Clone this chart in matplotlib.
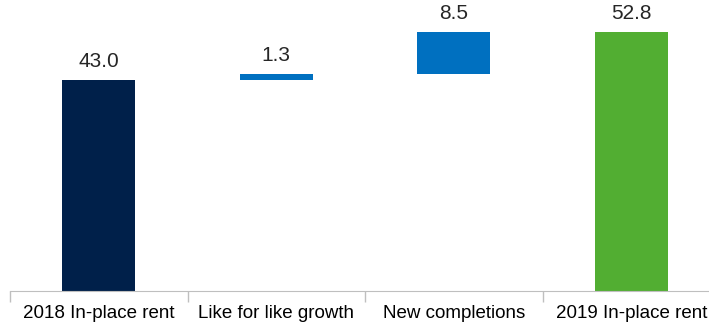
import numpy as np
import matplotlib.pyplot as plt

plt.rcParams['font.family'] = ['Liberation Sans', 'DejaVu Sans']

# rent bridge 2018 -> 2019
categories = ["2018 In-place rent", "Like for like growth", "New completions", "2019 In-place rent"]
values = [43.0, 1.3, 8.5, 52.8]
is_total = [True, False, False, True]
colors = ["#00204A", "#0070C0", "#0070C0", "#52AE32"]

# bottoms for the floating steps
bottoms = []
running = 0.0
for v, tot in zip(values, is_total):
    if tot:
        bottoms.append(0.0)
        running = v
    else:
        bottoms.append(running)
        running += v

x = np.arange(len(categories))

fig = plt.figure(figsize=(7.09, 3.22), dpi=100)
ax = fig.add_axes([10 / 709, 31 / 322, 710 / 709, 1 - 31 / 322])

ax.bar(x, values, bottom=bottoms, width=0.41, color=colors)

for xi, v, b in zip(x, values, bottoms):
    ax.text(xi, b + v + 1.8, f"{v:.1f}", ha="center", va="bottom", fontsize=15, color="#262626")

ax.set_xlim(-0.5, 3.5)
ax.set_ylim(0, 59.3)

ax.set_xticks(x)
ax.set_xticklabels(categories, fontsize=13.5, color="#000000")
ax.tick_params(axis="x", which="major", length=0, pad=10)
ax.set_xticks(np.arange(-0.5, 4.0, 1.0), minor=True)
ax.tick_params(axis="x", which="minor", length=8, color="#BFBFBF", width=1)

ax.set_yticks([])
for s in ["top", "right", "left"]:
    ax.spines[s].set_visible(False)
ax.spines["bottom"].set_color("#BFBFBF")

plt.savefig("out.png", dpi=100)
